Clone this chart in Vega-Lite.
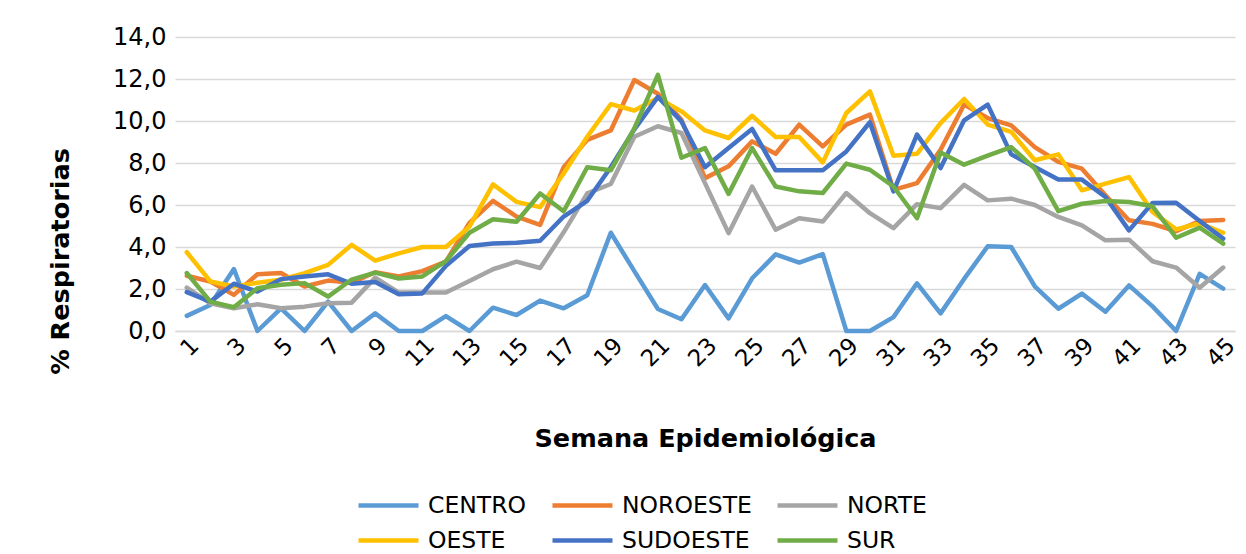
{
  "$schema": "https://vega.github.io/schema/vega-lite/v6.json",
  "autosize": "none",
  "width": 1060,
  "height": 294,
  "padding": {"left": 175, "top": 37, "right": 11, "bottom": 223},
  "background": "white",
  "config": {
    "font": "DejaVu Sans",
    "view": {"stroke": null}
  },
  "datasets": {
    "series": [
      {"region": "CENTRO", "valores": [0.72,1.24,2.95,0,1.08,0,1.4,0,0.84,0,0,0.71,0,1.11,0.76,1.45,1.08,1.7,4.68,2.85,1.05,0.56,2.19,0.6,2.51,3.65,3.26,3.66,0,0,0.66,2.27,0.84,2.48,4.03,4.0,2.13,1.06,1.78,0.92,2.17,1.17,0,2.72,2.02]},
      {"region": "NOROESTE", "valores": [2.63,2.36,1.72,2.7,2.76,2.12,2.4,2.3,2.8,2.6,2.85,3.3,5.15,6.2,5.45,5.05,7.8,9.1,9.55,11.95,11.3,10.06,7.28,7.84,9.03,8.44,9.83,8.79,9.83,10.3,6.72,7.04,8.63,10.78,10.14,9.79,8.76,8.05,7.73,6.46,5.27,5.1,4.75,5.24,5.29]},
      {"region": "NORTE", "valores": [2.07,1.32,1.08,1.27,1.08,1.16,1.32,1.35,2.54,1.83,1.83,1.83,2.38,2.94,3.3,3.0,4.7,6.55,7.0,9.25,9.75,9.43,7.04,4.66,6.88,4.82,5.37,5.21,6.57,5.61,4.9,6.04,5.85,6.96,6.22,6.3,6.0,5.43,5.03,4.32,4.35,3.32,3.02,2.06,3.02]},
      {"region": "OESTE", "valores": [3.75,2.36,2.12,2.3,2.44,2.76,3.15,4.1,3.35,3.7,4.0,4.0,4.97,6.98,6.15,5.9,7.5,9.25,10.8,10.5,11.1,10.46,9.55,9.19,10.25,9.24,9.24,8.03,10.38,11.41,8.35,8.44,9.9,11.05,9.83,9.48,8.13,8.41,6.7,7.02,7.33,5.67,4.84,5.13,4.68]},
      {"region": "SUDOESTE", "valores": [1.85,1.4,2.25,1.88,2.47,2.6,2.7,2.25,2.33,1.75,1.79,3.1,4.05,4.17,4.2,4.3,5.45,6.2,7.8,9.6,11.15,9.98,7.8,8.71,9.62,7.65,7.65,7.65,8.55,9.94,6.65,9.35,7.76,10.03,10.78,8.41,7.81,7.21,7.21,6.38,4.79,6.1,6.11,5.24,4.4]},
      {"region": "SUR", "valores": [2.76,1.4,1.13,2.04,2.2,2.28,1.64,2.45,2.78,2.5,2.6,3.33,4.68,5.32,5.2,6.55,5.7,7.8,7.65,9.65,12.2,8.25,8.71,6.53,8.71,6.88,6.65,6.57,7.97,7.68,6.88,5.37,8.5,7.92,8.35,8.76,7.73,5.71,6.06,6.19,6.14,5.94,4.44,4.92,4.16]}
    ]
  },
  "data": {"name": "series"},
  "transform": [
    {"flatten": ["valores"], "as": ["valor"]},
    {"window": [{"op": "row_number", "as": "semana"}], "groupby": ["region"]}
  ],
  "mark": {"type": "line", "strokeWidth": 4.5, "strokeJoin": "round", "strokeCap": "round"},
  "encoding": {
    "x": {
      "field": "semana",
      "type": "ordinal",
      "sort": "ascending",
      "scale": {"type": "point", "padding": 0.5},
      "axis": {
        "title": "Semana Epidemiológica",
        "titleFontSize": 25.5,
        "titleFontWeight": "bold",
        "titleColor": "#000000",
        "titleBaseline": "middle",
        "titleY": 107,
        "values": [1,3,5,7,9,11,13,15,17,19,21,23,25,27,29,31,33,35,37,39,41,43,45],
        "labelAngle": -45,
        "labelFontSize": 23,
        "labelColor": "#000000",
        "labelPadding": 3,
        "ticks": false,
        "domainColor": "#d9d9d9",
        "domainWidth": 1.5,
        "grid": false
      }
    },
    "y": {
      "field": "valor",
      "type": "quantitative",
      "scale": {"domain": [0, 14], "nice": false},
      "axis": {
        "title": "% Respiratorias",
        "titleFontSize": 25.5,
        "titleFontWeight": "bold",
        "titleColor": "#000000",
        "titleAlign": "center",
        "titleBaseline": "middle",
        "titleX": -115,
        "titleY": 224,
        "values": [0,2,4,6,8,10,12,14],
        "labelExpr": "replace(format(datum.value, '.1f'), '.', ',')",
        "labelFontSize": 24,
        "labelColor": "#000000",
        "labelPadding": 9,
        "ticks": false,
        "domain": false,
        "grid": true,
        "gridColor": "#d9d9d9",
        "gridWidth": 1.5
      }
    },
    "color": {
      "field": "region",
      "type": "nominal",
      "scale": {
        "domain": ["CENTRO","NOROESTE","NORTE","OESTE","SUDOESTE","SUR"],
        "range": ["#5B9BD5","#ED7D31","#A5A5A5","#FFC000","#4472C4","#70AD47"]
      },
      "legend": {
        "title": null,
        "orient": "none",
        "legendX": 201,
        "legendY": 456,
        "direction": "horizontal",
        "columns": 3,
        "gridAlign": "each",
        "symbolType": "M-3,0H3",
        "symbolSize": 400,
        "symbolStrokeWidth": 4.5,
        "labelFontSize": 23.5,
        "labelColor": "#000000",
        "labelOffset": 27,
        "columnPadding": 16,
        "rowPadding": 11,
        "labelLimit": 300
      }
    }
  }
}
